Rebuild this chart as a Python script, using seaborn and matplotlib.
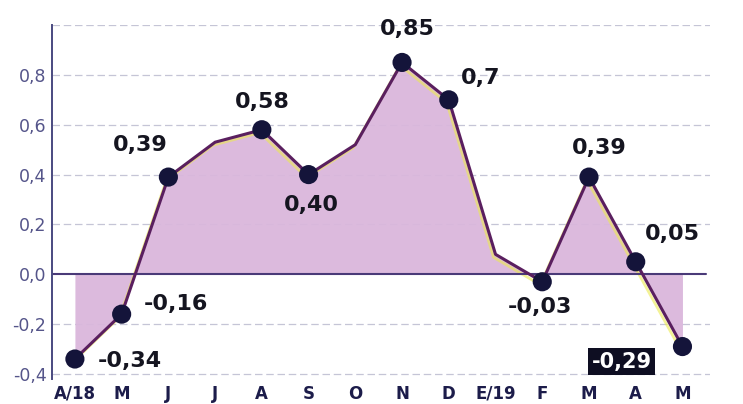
import matplotlib
matplotlib.use("Agg")
import matplotlib.pyplot as plt
import matplotlib.transforms as mtransforms
import seaborn as sns
import pandas as pd
import numpy as np

months = ["A/18", "M", "J", "J", "A", "S", "O", "N", "D", "E/19", "F", "M", "A", "M"]
values = [-0.34, -0.16, 0.39, 0.53, 0.58, 0.40, 0.52, 0.85, 0.70, 0.08, -0.03, 0.39, 0.05, -0.29]
marked = [True, True, True, False, True, True, False, True, True, False, True, True, True, True]
label_text = ["-0,34", "-0,16", "0,39", "", "0,58", "0,40", "", "0,85", "0,7", "", "-0,03", "0,39", "0,05", "-0,29"]
yticks = [-0.4, -0.2, 0.0, 0.2, 0.4, 0.6, 0.8]
ytick_labels = ["-0,4", "-0,2", "0,0", "0,2", "0,4", "0,6", "0,8"]

# label offsets in pixels (dx, dy, ha)
offsets = {0: (23, -2, "left"), 1: (22, 10, "left"), 2: (-28, 32, "center"),
           4: (0, 28, "center"), 5: (3, -30, "center"), 7: (5, 33, "center"),
           8: (12, 22, "left"), 10: (-2, -25, "center"), 11: (10, 29, "center"),
           12: (37, 28, "center"), 13: (-61, -15, "center")}

df = pd.DataFrame({"x": np.arange(len(values)), "v": values, "m": marked})

sns.set_theme(style="white")
fig = plt.figure(figsize=(7.43, 4.04), dpi=100)
ax = fig.add_axes([0.07, 0.062, 0.885, 0.876])

line_col = "#5a1f5f"
fill_col = "#dab7dc"

ax.fill_between(df["x"], df["v"], 0, color=fill_col, alpha=0.95, lw=0, zorder=1)

# faint yellow misregistration edge
shift = mtransforms.offset_copy(ax.transData, fig=fig, x=-2, y=-3, units="dots")
ax.plot(df["x"], df["v"], color="#ecea50", lw=2, alpha=0.6, transform=shift, zorder=2)

sns.lineplot(data=df, x="x", y="v", color=line_col, lw=2.2, ax=ax, zorder=3)
sns.scatterplot(data=df[df["m"]], x="x", y="v", color="#14143a", s=190,
                edgecolor="none", ax=ax, zorder=4)

# gridlines
for yv in [-0.4, -0.2, 0.2, 0.4, 0.6, 0.8, 1.0]:
    ax.axhline(yv, color="#c5c5d6", lw=0.9, ls=(0, (6, 3)), zorder=0)
ax.axhline(0, color="#4a3a78", lw=1.5, xmin=0, xmax=0.995, zorder=2)

for i, t in enumerate(label_text):
    if not t:
        continue
    dx, dy, ha = offsets[i]
    if i == 13:
        ax.annotate(t, (i, values[i]), xytext=(dx, dy), textcoords="offset pixels",
                    ha=ha, va="center", fontsize=15, fontweight="bold", color="white",
                    bbox=dict(boxstyle="square,pad=0.15", fc="#0e0e22", ec="none"), zorder=5)
    else:
        ax.annotate(t, (i, values[i]), xytext=(dx, dy), textcoords="offset pixels",
                    ha=ha, va="center", fontsize=16, fontweight="bold", color="#151520", zorder=5)

ax.set_xlim(-0.49, 13.58)
ax.set_ylim(-0.42, 1.0)
ax.set_xticks(df["x"])
ax.set_xticklabels(months, fontsize=12, color="#1c1c4a", fontweight="semibold")
ax.set_yticks(yticks)
ax.set_yticklabels(ytick_labels, fontsize=12.5, color="#55558a")
ax.tick_params(axis="both", length=0, pad=4)
ax.set_xlabel("")
ax.set_ylabel("")
for s in ["top", "right", "bottom"]:
    ax.spines[s].set_visible(False)
ax.spines["left"].set_color("#4a4a80")
ax.spines["left"].set_linewidth(1.4)

fig.savefig("out.png", dpi=100)
